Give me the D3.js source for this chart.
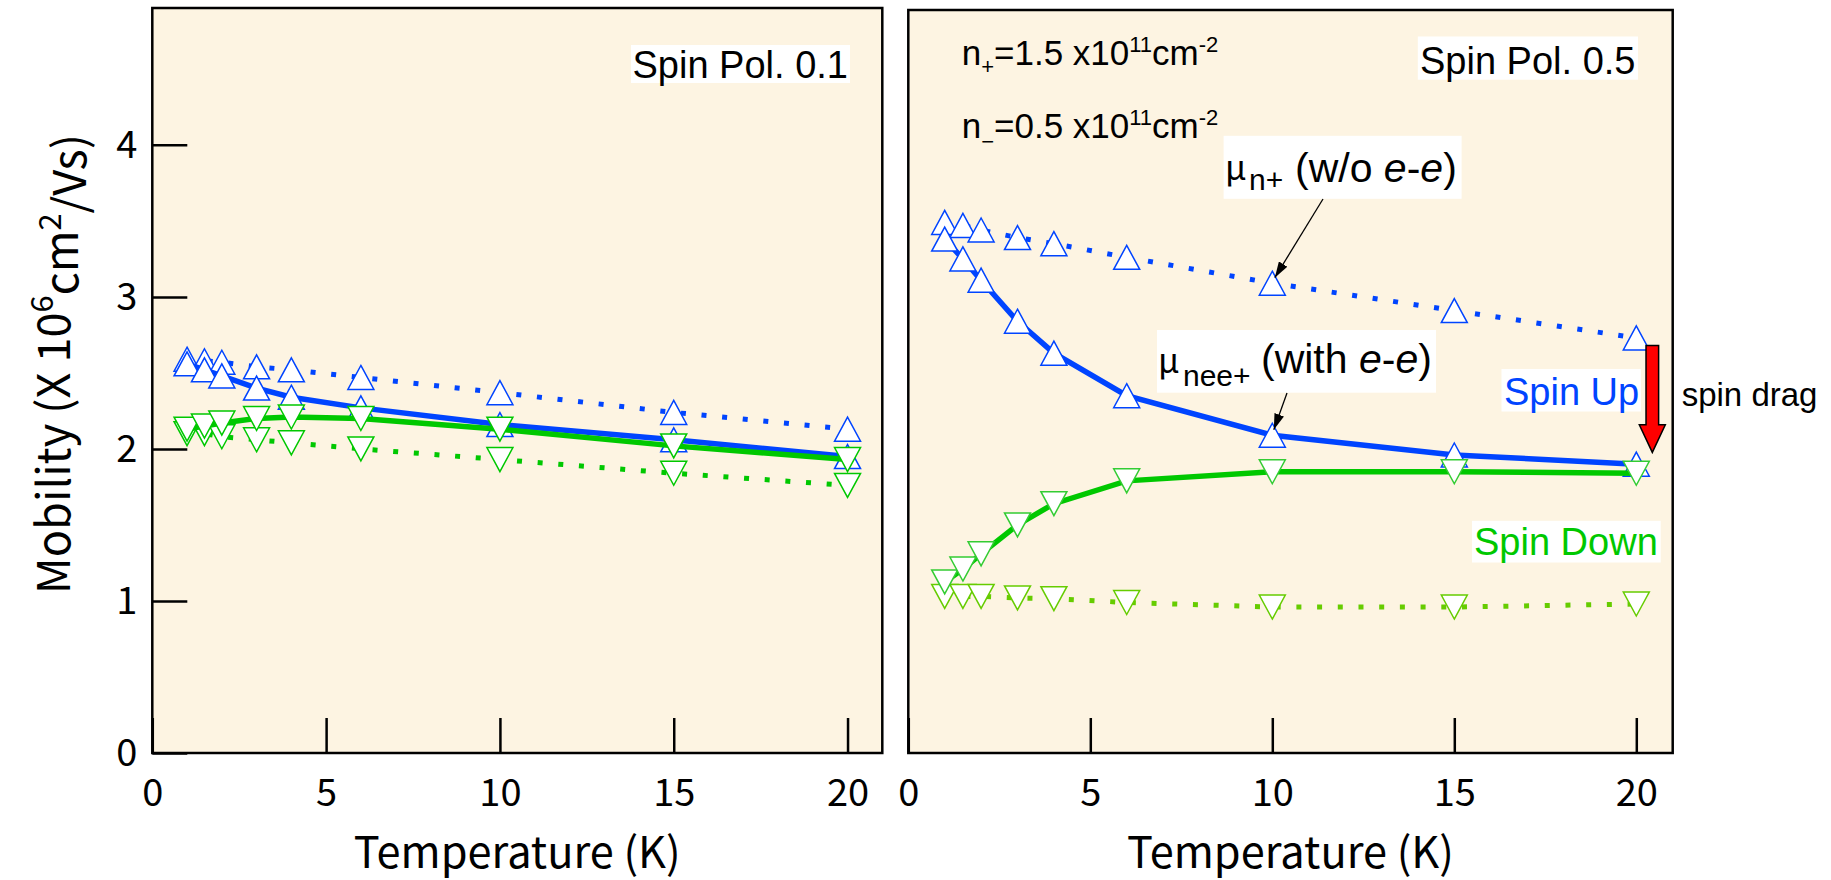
<!DOCTYPE html>
<html>
<head>
<meta charset="utf-8">
<script src="https://cdn.jsdelivr.net/npm/d3@7"></script>
<style>
  body { margin: 0; background: #fff; }
</style>
</head>
<body>
<div id="vis"></div>
<script>
const WIDTH = 1831, HEIGHT = 880;

// temperatures (K) shared by every series
const TEMPS = [1, 1.5, 2, 3, 4, 6, 10, 15, 20];

// spin polarisation 0.1
const pol01UpFree   = [2.59, 2.58, 2.57, 2.54, 2.52, 2.47, 2.37, 2.24, 2.13];
const pol01UpEE     = [2.56, 2.52, 2.48, 2.40, 2.34, 2.27, 2.16, 2.06, 1.95];
const pol01DownFree = [2.10, 2.10, 2.08, 2.06, 2.04, 2.00, 1.93, 1.84, 1.76];
const pol01DownEE   = [2.13, 2.15, 2.17, 2.20, 2.21, 2.20, 2.13, 2.02, 1.93];

// spin polarisation 0.5
const pol05UpFree   = [3.49, 3.47, 3.44, 3.39, 3.35, 3.26, 3.09, 2.91, 2.73];
const pol05UpEE     = [3.38, 3.25, 3.11, 2.84, 2.63, 2.35, 2.09, 1.96, 1.90];
const pol05DownFree = [1.03, 1.03, 1.03, 1.02, 1.015, 0.99, 0.96, 0.96, 0.98];
const pol05DownEE   = [1.125, 1.21, 1.31, 1.50, 1.64, 1.79, 1.85, 1.85, 1.84];

const X_TICKS = [0, 5, 10, 15, 20];
const Y_TICKS = [0, 1, 2, 3, 4];

const BG = "#fdf4e2";
const BLUE = "#0044ff";
const GREEN = "#00c800";
const LIME = "#66cc00";
const BOTTOM = 753;
const JP = "'Noto Sans CJK JP', sans-serif";
const SANS = "'Liberation Sans', Arial, sans-serif";

// triangle markers, centred on the point
const TW = 26, TH = 24;
const UP = `M0,${-TH/2}L${TW/2},${TH/2}L${-TW/2},${TH/2}Z`;
const DOWN = `M0,${TH/2}L${TW/2},${-TH/2}L${-TW/2},${-TH/2}Z`;

const svg = d3.select("#vis").append("svg")
    .attr("width", WIDTH)
    .attr("height", HEIGHT)
    .style("font-family", SANS);

svg.append("defs").append("marker")
    .attr("id", "head")
    .attr("viewBox", "0 0 16 10")
    .attr("refX", 16).attr("refY", 5)
    .attr("markerWidth", 16).attr("markerHeight", 10)
    .attr("markerUnits", "userSpaceOnUse")
    .attr("orient", "auto")
  .append("path")
    .attr("d", "M0,0L16,5L0,10Z")
    .attr("fill", "#000");

function drawPanel(p) {
  const x = d3.scaleLinear().domain([0, 21]).range([p.left, p.right]);
  const y = d3.scaleLinear().domain([0, p.yMax]).range([BOTTOM, p.top]);
  const g = svg.append("g");

  g.append("rect")
      .attr("x", p.left).attr("y", p.top)
      .attr("width", p.right - p.left).attr("height", BOTTOM - p.top)
      .attr("fill", BG);

  const line = d3.line().x(d => x(d[0])).y(d => y(d[1]));

  p.series.forEach(s => {
    const pts = TEMPS.map((t, i) => [t, s.values[i]]);
    g.append("path")
        .datum(pts)
        .attr("d", line)
        .attr("fill", "none")
        .attr("stroke", s.color)
        .attr("stroke-width", s.dotted ? 5 : 5.5)
        .attr("stroke-dasharray", s.dotted ? "5 15.7" : null);
    g.selectAll(null)
      .data(pts)
      .join("path")
        .attr("transform", d => `translate(${x(d[0])},${y(d[1])})`)
        .attr("d", s.up ? UP : DOWN)
        .attr("fill", "#fff")
        .attr("stroke", s.marker)
        .attr("stroke-width", 1.5);
  });

  g.append("rect")
      .attr("x", p.left).attr("y", p.top)
      .attr("width", p.right - p.left).attr("height", BOTTOM - p.top)
      .attr("fill", "none")
      .attr("stroke", "#000")
      .attr("stroke-width", 2.5);

  const ax = g.append("g")
      .attr("transform", `translate(0,${BOTTOM})`)
      .call(d3.axisBottom(x).tickValues(X_TICKS).tickSize(-35).tickFormat(d3.format("d")));
  ax.select(".domain").remove();
  ax.selectAll(".tick line").attr("stroke", "#000").attr("stroke-width", 2.5);
  ax.selectAll(".tick text")
      .attr("y", 53).attr("dy", null)
      .attr("fill", "#000")
      .style("font-family", JP).style("font-size", "38px");

  if (p.showY) {
    const ay = g.append("g")
        .attr("transform", `translate(${p.left},0)`)
        .call(d3.axisLeft(y).tickValues(Y_TICKS).tickSize(-35).tickPadding(15).tickFormat(d3.format("d")));
    ay.select(".domain").remove();
    ay.selectAll(".tick line").attr("stroke", "#000").attr("stroke-width", 2.5);
    ay.selectAll(".tick text")
        .attr("fill", "#000")
        .style("font-family", JP).style("font-size", "38px");
  }

  // x axis title
  const t = g.append("text")
      .attr("x", (p.left + p.right) / 2).attr("y", 868)
      .attr("text-anchor", "middle")
      .style("font-family", JP).style("font-size", "45px")
      .text("Temperature (K)");
  fitText(t, 327);

  return {x, y, g};
}

function fitText(sel, target) {
  const len = sel.node().getComputedTextLength();
  const fs = parseFloat(sel.style("font-size"));
  sel.style("font-size", (fs * target / len) + "px");
}

function label(x, y, txt, size, color, opts = {}) {
  const t = svg.append("text")
      .attr("x", x).attr("y", y)
      .style("font-size", size + "px")
      .attr("fill", color || "#000");
  if (opts.family) t.style("font-family", opts.family);
  if (txt) t.text(txt);
  return t;
}

function box(x, y, w, h) {
  svg.append("rect").attr("x", x).attr("y", y).attr("width", w).attr("height", h).attr("fill", "#fff");
}

const left = drawPanel({
  left: 152.3, right: 882.3, top: 8, yMax: 4.9, showY: true,
  series: [
    {values: pol01UpFree, color: BLUE, marker: BLUE, dotted: true, up: true},
    {values: pol01UpEE, color: BLUE, marker: BLUE, dotted: false, up: true},
    {values: pol01DownFree, color: GREEN, marker: GREEN, dotted: true, up: false},
    {values: pol01DownEE, color: GREEN, marker: GREEN, dotted: false, up: false}
  ]
});

const right = drawPanel({
  left: 908.3, right: 1672.7, top: 10, yMax: 4.887, showY: false,
  series: [
    {values: pol05UpFree, color: BLUE, marker: BLUE, dotted: true, up: true},
    {values: pol05UpEE, color: BLUE, marker: BLUE, dotted: false, up: true},
    {values: pol05DownFree, color: LIME, marker: LIME, dotted: true, up: false},
    {values: pol05DownEE, color: GREEN, marker: "#33cc33", dotted: false, up: false}
  ]
});

// y axis title
const yl = svg.append("text")
    .attr("transform", "translate(70,364) rotate(-90)")
    .attr("text-anchor", "middle")
    .style("font-family", JP).style("font-size", "45px");
yl.append("tspan").text("Mobility (X 10");
yl.append("tspan").attr("dy", "-0.55em").style("font-size", "0.68em").text("6");
yl.append("tspan").attr("dy", "0.55em").text("cm");
yl.append("tspan").attr("dy", "-0.55em").style("font-size", "0.68em").text("2");
yl.append("tspan").attr("dy", "0.55em").text("/Vs)");
fitText(yl, 460);

// panel tags
box(631, 45, 219, 38);
label(632.5, 77.5, "Spin Pol. 0.1", 38);
box(1417.8, 36.5, 220.2, 43.2);
label(1420, 74, "Spin Pol. 0.5", 38);

// densities
const n1 = label(961.7, 65, null, 35);
n1.append("tspan").text("n");
n1.append("tspan").attr("dy", 9).style("font-size", "22px").text("+");
n1.append("tspan").attr("dy", -9).text("=1.5 x10");
n1.append("tspan").attr("dy", -13).style("font-size", "22px").text("11");
n1.append("tspan").attr("dy", 13).text("cm");
n1.append("tspan").attr("dy", -13).style("font-size", "22px").text("-2");

const n2 = label(961.7, 138, null, 35);
n2.append("tspan").text("n");
n2.append("tspan").attr("dy", 11).style("font-size", "22px").text("\u2212");
n2.append("tspan").attr("dy", -11).text("=0.5 x10");
n2.append("tspan").attr("dy", -13).style("font-size", "22px").text("11");
n2.append("tspan").attr("dy", 13).text("cm");
n2.append("tspan").attr("dy", -13).style("font-size", "22px").text("-2");

// mobility labels
function eeText(x, y, lead) {
  const t = label(x, y, null, 41);
  t.append("tspan").text(lead);
  t.append("tspan").style("font-style", "italic").text("e");
  t.append("tspan").text("-");
  t.append("tspan").style("font-style", "italic").text("e");
  t.append("tspan").text(")");
}
box(1223.6, 135.8, 238, 63);
label(1225, 180, "\u03bc", 34, "#000", {family: JP});
label(1249, 190, "n+", 30);
eeText(1295, 182, "(w/o ");

box(1157, 330, 279, 62.7);
label(1158, 373, "\u03bc", 34, "#000", {family: JP});
label(1183, 386, "nee+", 30);
eeText(1261, 373, "(with ");

// pointer arrows to the 10 K points
svg.append("line")
    .attr("x1", 1323).attr("y1", 199)
    .attr("x2", right.x(10) + 2.5).attr("y2", right.y(pol05UpFree[6]) - 5.5)
    .attr("stroke", "#000").attr("stroke-width", 1.3)
    .attr("marker-end", "url(#head)");
svg.append("line")
    .attr("x1", 1287).attr("y1", 393)
    .attr("x2", right.x(10) + 1.5).attr("y2", right.y(pol05UpEE[6]) - 5.5)
    .attr("stroke", "#000").attr("stroke-width", 1.3)
    .attr("marker-end", "url(#head)");

// spin labels
box(1501.5, 369, 139.5, 42.5);
label(1504, 405, "Spin Up", 38, BLUE);
box(1472, 520.8, 188.7, 41.7);
label(1474, 555, "Spin Down", 38, GREEN);

// spin drag arrow
const ax0 = right.x(20.44);
const aTop = right.y(2.681), aBase = right.y(2.159), aTip = right.y(1.977);
svg.append("path")
    .attr("d", `M${ax0 - 6.3},${aTop}L${ax0 + 6.3},${aTop}L${ax0 + 6.3},${aBase}L${ax0 + 13},${aBase}`
             + `L${ax0},${aTip}L${ax0 - 13},${aBase}L${ax0 - 6.3},${aBase}Z`)
    .attr("fill", "#ff0000")
    .attr("stroke", "#000")
    .attr("stroke-width", 1.5);

label(1681.7, 406, "spin drag", 33);
</script>
</body>
</html>
